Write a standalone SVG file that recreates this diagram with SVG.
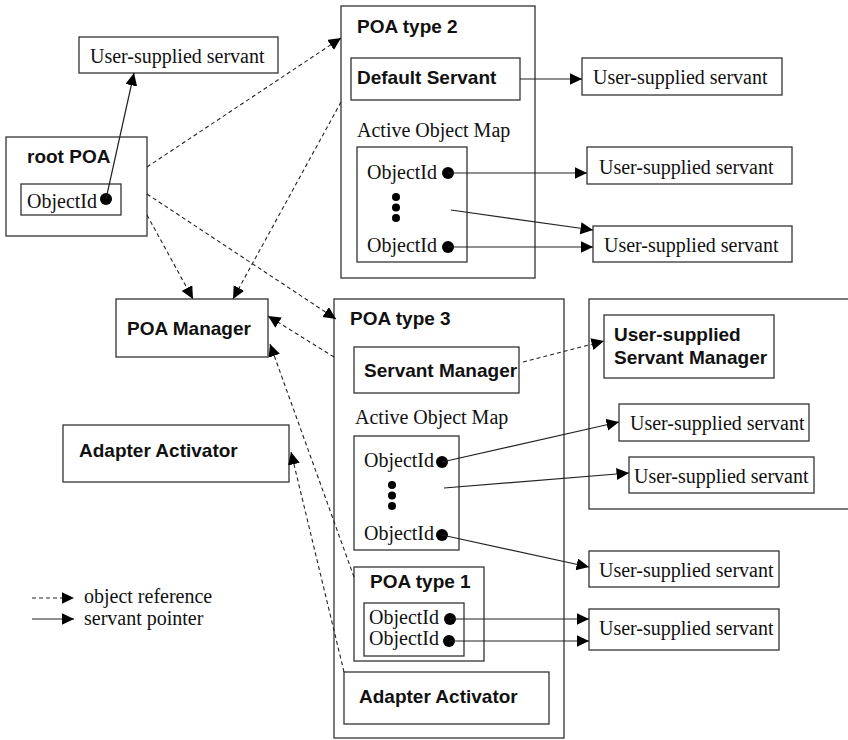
<svg xmlns="http://www.w3.org/2000/svg" width="848" height="740" viewBox="0 0 848 740">
  <style>
    .box { fill: #fff; stroke: #333; stroke-width: 1.3; }
    .serif { font-family: "Liberation Serif", "Times New Roman", serif; font-size: 20px; fill: #111; }
    .bold { font-family: "Liberation Sans", Arial, sans-serif; font-weight: bold; font-size: 19px; fill: #111; }
    .legend { font-family: "Liberation Serif", "Times New Roman", serif; font-size: 20px; fill: #111; }
    .ref { fill: none; stroke: #222; stroke-width: 1.1; stroke-dasharray: 4 3; marker-end: url(#head); }
    .ptr { fill: none; stroke: #222; stroke-width: 1.2; marker-end: url(#head); }
    .dot { fill: #000; }
  </style>
  <defs>
    <marker id="head" markerUnits="userSpaceOnUse" markerWidth="14" markerHeight="14" refX="12.5" refY="6" orient="auto">
      <path d="M0,0 L12.5,6 L0,12 z" fill="#000"/>
    </marker>
  </defs>
  <rect width="848" height="740" fill="#fff"/>

  <!-- root POA -->
  <g id="rootPOA">
    <rect class="box" x="6" y="137" width="141" height="99"/>
    <text class="bold" x="27" y="163">root POA</text>
    <rect class="box" x="21" y="184" width="100" height="31"/>
    <text class="serif" x="27" y="208">ObjectId</text>
    <circle class="dot" cx="106" cy="199" r="6"/>
  </g>

  <g id="servantRoot">
    <rect class="box" x="79" y="37" width="199" height="36"/>
    <text class="serif" x="90" y="63">User-supplied servant</text>
  </g>

  <g id="poaManager">
    <rect class="box" x="116" y="299" width="152" height="58"/>
    <text class="bold" x="127" y="335">POA Manager</text>
  </g>

  <g id="adapterActivatorRoot">
    <rect class="box" x="63" y="425" width="226" height="57"/>
    <text class="bold" x="79" y="457">Adapter Activator</text>
  </g>

  <!-- POA type 2 -->
  <g id="poaType2">
    <rect class="box" x="341" y="6" width="194" height="272"/>
    <text class="bold" x="357" y="33">POA type 2</text>
    <rect class="box" x="351" y="58" width="169" height="42"/>
    <text class="bold" x="357" y="84">Default Servant</text>
    <text class="serif" x="357" y="137">Active Object Map</text>
    <rect class="box" x="357" y="147" width="110" height="115"/>
    <text class="serif" x="367" y="179">ObjectId</text>
    <circle class="dot" cx="448" cy="173" r="6"/>
    <circle class="dot" cx="396" cy="197" r="4"/>
    <circle class="dot" cx="396" cy="207.5" r="4"/>
    <circle class="dot" cx="396" cy="218" r="4"/>
    <text class="serif" x="367" y="252">ObjectId</text>
    <circle class="dot" cx="448" cy="247" r="6"/>
  </g>

  <g id="servantDefault">
    <rect class="box" x="582" y="58" width="200" height="37"/>
    <text class="serif" x="593" y="84">User-supplied servant</text>
  </g>
  <g id="servantT2a">
    <rect class="box" x="587" y="147" width="205" height="37"/>
    <text class="serif" x="599" y="174">User-supplied servant</text>
  </g>
  <g id="servantT2b">
    <rect class="box" x="593" y="226" width="199" height="36"/>
    <text class="serif" x="604" y="252">User-supplied servant</text>
  </g>

  <!-- POA type 3 -->
  <g id="poaType3">
    <rect class="box" x="334" y="299" width="230" height="439"/>
    <text class="bold" x="350" y="325">POA type 3</text>
    <rect class="box" x="354" y="347" width="165" height="46"/>
    <text class="bold" x="364" y="377">Servant Manager</text>
    <text class="serif" x="355" y="424">Active Object Map</text>
    <rect class="box" x="354" y="436" width="105" height="114"/>
    <text class="serif" x="364" y="467">ObjectId</text>
    <circle class="dot" cx="442" cy="462" r="6"/>
    <circle class="dot" cx="392" cy="485" r="4"/>
    <circle class="dot" cx="392" cy="495.5" r="4"/>
    <circle class="dot" cx="392" cy="506" r="4"/>
    <text class="serif" x="364" y="540">ObjectId</text>
    <circle class="dot" cx="442" cy="535" r="6"/>
  </g>

  <g id="poaType1">
    <rect class="box" x="354" y="567" width="130" height="94"/>
    <text class="bold" x="370" y="588">POA type 1</text>
    <rect class="box" x="364" y="603" width="100" height="53"/>
    <text class="serif" x="369" y="624">ObjectId</text>
    <circle class="dot" cx="450" cy="619" r="6"/>
    <text class="serif" x="369" y="645">ObjectId</text>
    <circle class="dot" cx="449" cy="641" r="6"/>
  </g>

  <g id="adapterActivatorT3">
    <rect class="box" x="344" y="672" width="205" height="52"/>
    <text class="bold" x="359" y="703">Adapter Activator</text>
  </g>

  <!-- user-supplied servant manager area -->
  <g id="servantManagerArea">
    <rect class="box" x="589" y="299" width="280" height="210"/>
  </g>
  <g id="userServantManager">
    <rect class="box" x="604" y="315" width="170" height="63"/>
    <text class="bold" x="614" y="341">User-supplied</text>
    <text class="bold" x="614" y="364">Servant Manager</text>
  </g>
  <g id="servantT3a">
    <rect class="box" x="619" y="404" width="190" height="37"/>
    <text class="serif" x="630" y="430">User-supplied servant</text>
  </g>
  <g id="servantT3b">
    <rect class="box" x="629" y="457" width="185" height="36"/>
    <text class="serif" x="634" y="483">User-supplied servant</text>
  </g>
  <g id="servantT3c">
    <rect class="box" x="589" y="551" width="190" height="36"/>
    <text class="serif" x="599" y="577">User-supplied servant</text>
  </g>
  <g id="servantT1">
    <rect class="box" x="589" y="609" width="190" height="41"/>
    <text class="serif" x="599" y="635">User-supplied servant</text>
  </g>

  <!-- connectors -->
  <g id="connectors">
    <path class="ptr" d="M106,199 L134,73"/>
    <path class="ptr" d="M520,79 L582,79"/>
    <path class="ptr" d="M448,173 L587,173"/>
    <path class="ptr" d="M451,210 L593,230"/>
    <path class="ptr" d="M448,247 L593,247"/>
    <path class="ptr" d="M442,462 L619,422"/>
    <path class="ptr" d="M444,488 L629,473"/>
    <path class="ptr" d="M442,535 L589,567"/>
    <path class="ptr" d="M450,619 L589,619"/>
    <path class="ptr" d="M449,641 L589,641"/>

    <path class="ref" d="M147,167 L341,38"/>
    <path class="ref" d="M147,194 L336,319"/>
    <path class="ref" d="M147,215 L193,299"/>
    <path class="ref" d="M341,102 L233,299"/>
    <path class="ref" d="M334,357 L268,316"/>
    <path class="ref" d="M354,577 L270,344"/>
    <path class="ref" d="M344,672 L291,452"/>
    <path class="ref" d="M523,362 L604,341"/>
  </g>

  <!-- legend -->
  <g id="legend">
    <path class="ref" d="M32,598 L74,598"/>
    <text class="legend" x="84" y="603">object reference</text>
    <path class="ptr" d="M32,619 L74,619"/>
    <text class="legend" x="84" y="625">servant pointer</text>
  </g>
</svg>
